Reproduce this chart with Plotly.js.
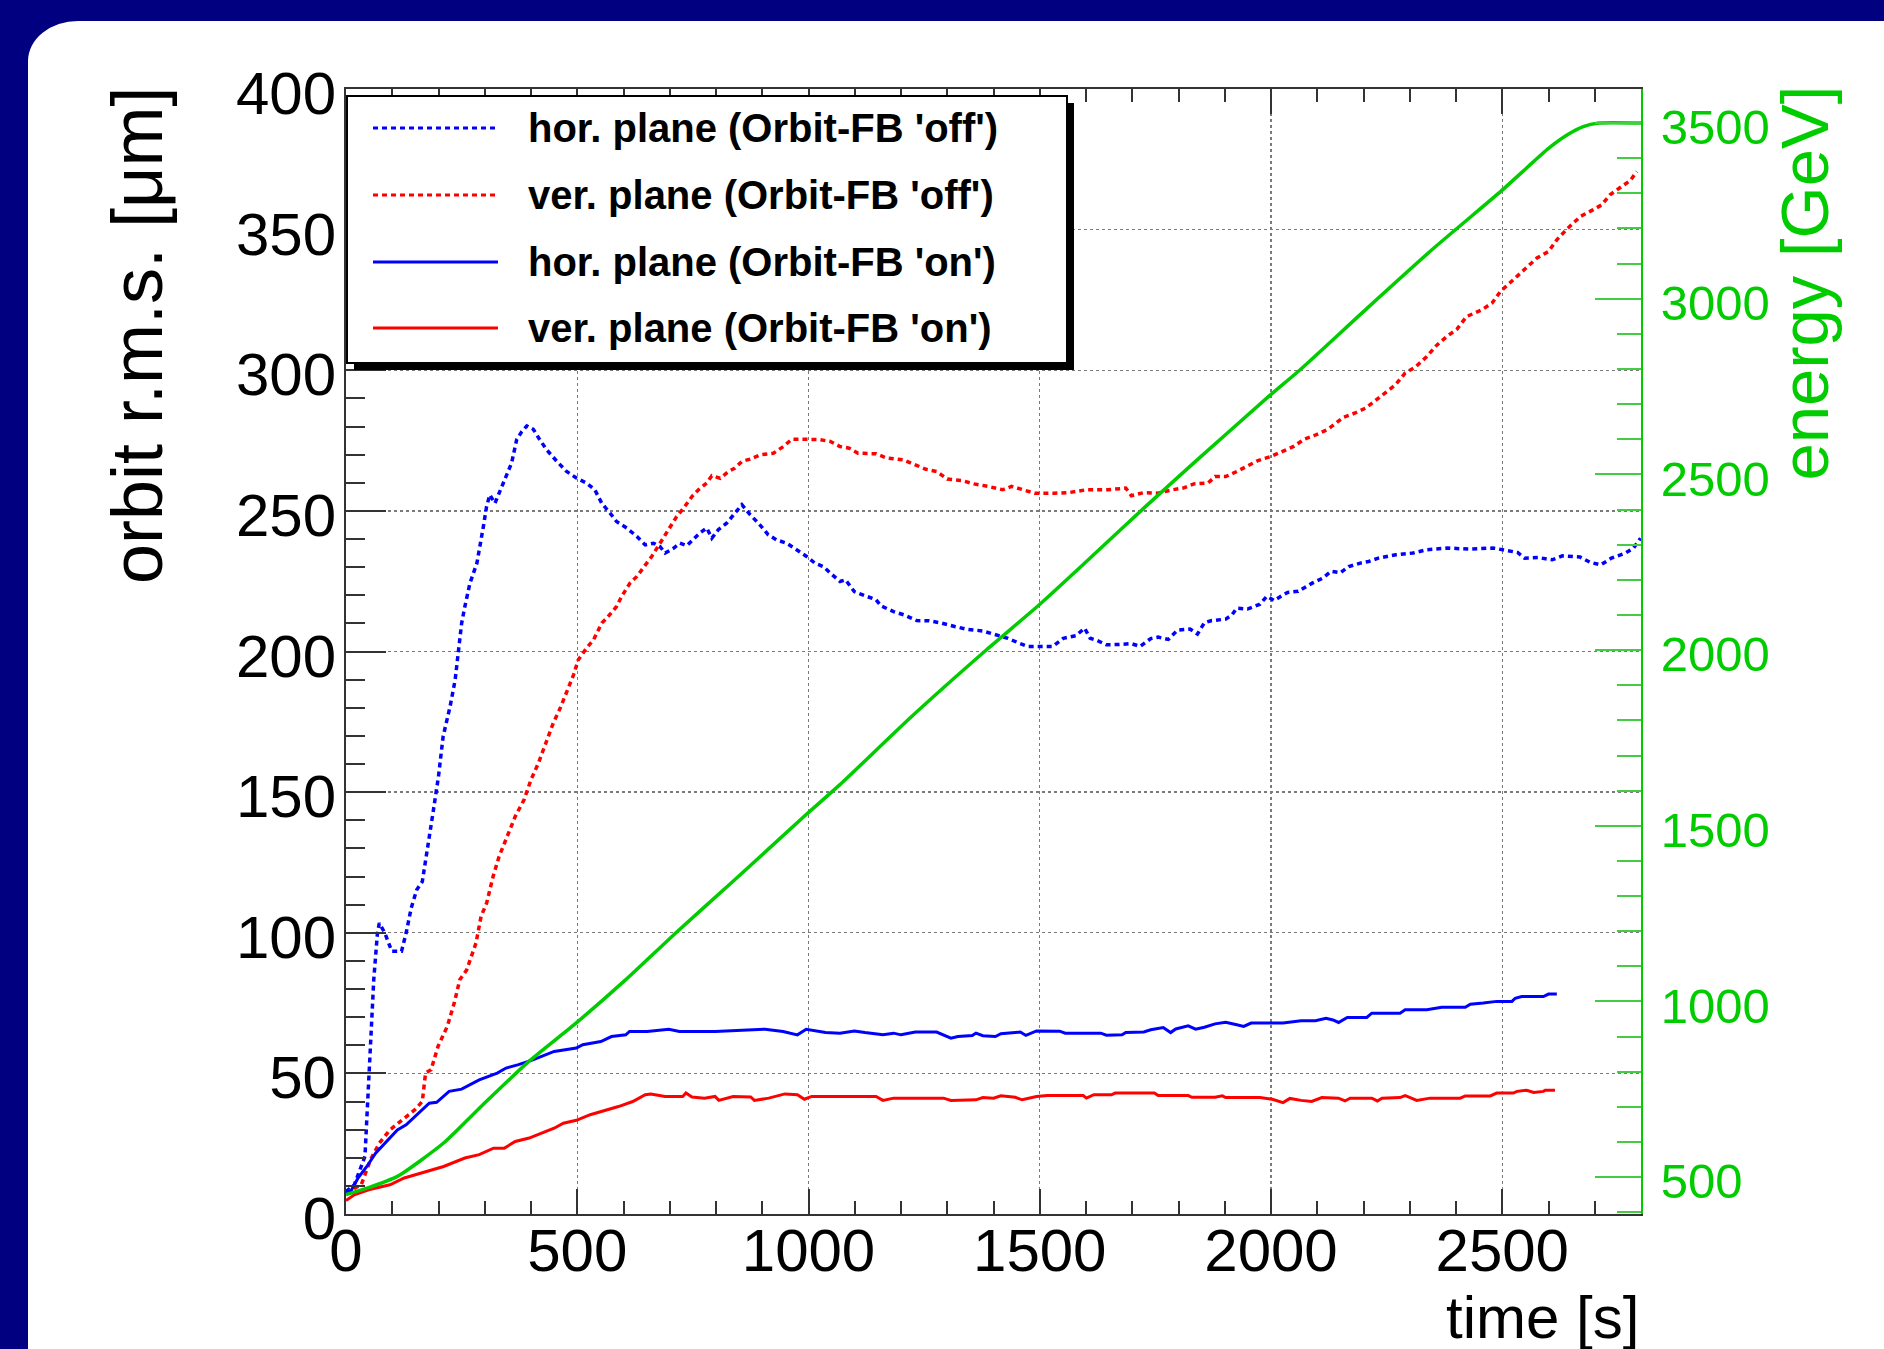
<!DOCTYPE html>
<html>
<head>
<meta charset="utf-8">
<script src="https://cdn.plot.ly/plotly-3.0.1.min.js"></script>
<style>
html,body{margin:0;padding:0;background:#000080;overflow:hidden;width:1884px;height:1349px;}
#panel{position:absolute;left:28px;top:21px;width:1870px;height:1340px;background:#ffffff;border-top-left-radius:50px 40px;}
#chart{position:absolute;left:0;top:0;width:1884px;height:1349px;}
</style>
</head>
<body>
<div id="panel"></div>
<div id="chart"></div>
<script>
// ---------------- data ----------------
const seriesNames = [
  "hor. plane (Orbit-FB 'off')",
  "ver. plane (Orbit-FB 'off')",
  "hor. plane (Orbit-FB 'on')",
  "ver. plane (Orbit-FB 'on')"
];
const xTitle = "time [s]";
const yTitle = "orbit r.m.s. [\u03bcm]";
const y2Title = "energy [GeV]";

// hor. plane, Orbit-FB off  [time s, rms um]
const horOffT = [0,18,41,49,55,60,68,72,84,99,120,130,141,153,165,176,188,200,210,225,236,243,250,257,268,283,290,297,304,311,322,333,347,358,369,380,391,405,419,434,456,477,499,520,538,553,571,585,607,629,647,665,679,690,708,722,737,751,765,780,791,805,823,841,856,874,892,913,931,953,975,996,1014,1032,1047,1068,1080,1099,1126,1146,1157,1184,1207,1234,1261,1288,1316,1343,1377,1408,1431,1455,1474,1501,1528,1551,1578,1597,1609,1624,1644,1671,1698,1717,1740,1756,1778,1798,1825,1841,1856,1872,1890,1902,1916,1926,1949,1976,1991,2007,2026,2036,2059,2089,2112,2130,2150,2168,2195,2211,2232,2270,2307,2337,2382,2427,2480,2510,2533,2548,2578,2608,2630,2668,2690,2713,2736,2766,2784,2799];
const horOffV = [8,10.4,20.5,47.7,71.4,83.3,99.9,103.4,99.9,93.4,93.4,99.9,108.8,115.3,118.2,130.7,142.5,155.6,169.8,180.4,189.9,200,210,216,224.3,231.4,237.3,244.4,251.6,255.7,252.7,256.9,262.2,267,275.3,278.2,280.2,279,275.3,271.7,267.6,264,261.6,259.9,257.5,252.7,249.2,246.2,243.9,240.9,237.9,238.5,237.3,235,236.7,238.5,237.6,239.7,242.1,243.9,240.3,243.3,245.6,249.2,252.2,248.6,245.6,241.5,239.7,238.5,236.1,233.8,231.4,230.2,227.9,224.9,225.5,221.3,219.6,218.4,216.2,214.2,213,211,210.9,210.1,208.9,207.9,207.3,205.9,204.7,203,201.8,201.8,201.8,204.7,205.6,208.3,204.7,203.9,202.4,202.5,202.8,201.8,204.6,205.1,204.3,207.6,208,206.2,210.2,211,211.3,211.5,213.1,215.4,215.1,216.8,219.6,218.1,220.1,221,221.4,224.3,226.1,228.5,228,230.2,231.5,232,233.2,234.4,235,236.2,236.8,236.4,236.8,235.8,235.2,233.2,233.4,232.6,234,233.6,231.7,230.8,233.2,235,236.8,240.3];

// ver. plane, Orbit-FB off
const verOffT = [0,33,53,72,95,122,149,165,172,184,199,219,234,246,261,281,292,304,318,331,346,366,385,400,416,434,448,463,477,492,502,520,535,553,564,585,596,614,629,643,661,679,697,715,730,748,762,780,791,809,827,841,856,874,895,924,946,964,982,1003,1025,1047,1068,1088,1107,1146,1169,1204,1227,1254,1277,1300,1331,1358,1389,1420,1439,1462,1489,1532,1563,1601,1648,1686,1698,1725,1756,1787,1810,1833,1864,1879,1902,1926,1949,1972,1999,2026,2049,2072,2094,2123,2146,2157,2182,2204,2220,2246,2269,2290,2312,2337,2359,2380,2402,2423,2456,2478,2496,2524,2546,2575,2600,2618,2640,2669,2697,2715,2733,2755,2777,2791];
const verOffV = [7.5,10.4,19.3,25.2,29.9,33.5,37.1,40,50.1,51.3,59.6,66.7,75,83.3,86.8,96.3,105.8,110.5,120,127.1,133.1,141.4,147.3,154.4,160.3,168.6,174.5,179.8,185.2,191.7,197,201.2,204.1,210.1,211.9,216,219.6,224.3,226.7,229.6,233.8,238.5,243.3,248,251,255.1,257.5,259.9,262.5,261.6,264,265.2,267.6,268.4,269.9,270.5,272.9,275.5,275.5,275.5,275.3,274.7,272.9,272.3,270.5,270.3,268.8,268.2,266.7,264.8,264,261.3,260.8,259.6,258.7,257.5,258.7,257.5,256.3,256.3,256.5,257.5,257.5,258.1,255.4,256.5,256.3,257.5,258.1,259.6,259.9,262.2,262.2,264,265.8,267.9,269.3,271.1,272.9,275.5,276.8,279,282,283.3,284.8,286.5,288.5,291.7,294.8,299,301.1,304.9,309,312,314.6,319.1,321.5,323.9,328,332.2,335.7,339.9,342.2,346.4,350.2,354.7,357.1,358.8,362.4,365.1,367.5,370.7];

// hor. plane, Orbit-FB on
const horOnT = [0,10,26,45,64,87,111,130,157,180,196,223,250,288,327,346,373,404,450,498,512,551,574,605,613,651,698,721,798,875,906,945,976,995,1037,1068,1099,1122,1161,1184,1200,1231,1277,1308,1323,1354,1362,1377,1404,1416,1458,1470,1493,1543,1555,1632,1644,1678,1686,1725,1740,1767,1783,1794,1821,1837,1856,1879,1902,1926,1941,1957,2026,2065,2096,2119,2134,2146,2165,2207,2218,2279,2290,2337,2369,2420,2431,2459,2488,2521,2528,2542,2589,2600,2618];
const horOnV = [8,8,12.8,16.9,21.6,25.8,29.9,31.7,35.9,39.4,39.7,43.6,44.4,47.7,50.1,51.9,53.1,54.8,57.8,59,60.2,61.3,63.1,63.7,64.9,64.9,65.7,64.9,64.9,65.3,65.7,64.9,63.7,65.7,64.5,64.3,65.1,64.5,63.7,64.3,63.7,64.7,64.7,62.5,63.1,63.5,64.3,63.4,63.1,64.1,64.7,63.5,65.1,65,64.3,64.3,63.6,63.7,64.5,64.7,65.5,66.3,64.5,65.8,66.9,65.7,66.4,67.6,68.2,67.3,66.7,67.9,67.9,68.7,68.7,69.6,69,68.1,69.9,69.9,71.4,71.4,72.6,72.6,73.5,73.5,74.6,75,75.6,75.6,76.7,77.3,77.3,78.2,78.2];

// ver. plane, Orbit-FB on
const verOnT = [0,18,49,95,126,172,211,257,288,319,342,366,396,427,450,470,498,528,559,589,620,647,659,690,728,735,748,775,798,806,837,875,883,914,949,976,991,1007,1146,1161,1184,1292,1308,1362,1377,1400,1416,1447,1462,1493,1516,1594,1601,1617,1655,1663,1748,1756,1821,1829,1879,1895,1902,1976,2003,2026,2041,2065,2088,2110,2146,2160,2171,2218,2230,2240,2279,2290,2301,2315,2344,2409,2420,2474,2488,2524,2532,2553,2568,2589,2593,2614];
const verOnV = [4.8,6.8,8.6,10.4,12.8,15.1,16.9,19.9,21.1,23.4,23.4,25.8,27,29,30.5,32.3,33.3,35.3,36.7,38.2,40,42.4,42.7,41.8,41.8,43,41.6,41.2,41.8,40.4,41.8,41.6,40.4,41.2,42.7,42.4,40.8,41.8,41.8,40.4,41.2,41.2,40.4,40.6,41.4,41.2,42,41.5,40.6,41.8,42.1,42.1,41.2,42.4,42.4,43,43,42.1,42.1,41.5,41.5,42,41.4,41.4,40.8,39.6,41.1,40.4,40,41.4,41.2,40.2,41.2,41.2,40.2,41.2,41.4,42.1,41.4,40.4,41.2,41.2,42,42,43,43,43.6,44,43.2,43.6,44,44];

// beam energy [GeV]
const energyT = [0,49,111,211,296,396,498,605,717,837,995,1068,1223,1385,1499,1609,1725,1841,1995,2063,2207,2351,2498,2560,2600,2640,2675,2709,2800];
const energyE = [450,470,502,597,706,830,939,1062,1200,1342,1532,1617,1811,2001,2129,2262,2404,2542,2722,2798,2972,3143,3307,3381,3428,3466,3490,3500,3500];

// axis ranges
const xRange = [0, 2800];
const yRange = [0, 400];
const y2Range = [395, 3597];

// ---------------- layout geometry (pixels) ----------------
const W = 1884, H = 1349;
const M = {l: 346, r: 243, t: 89, b: 135};
const PW = W - M.l - M.r, PH = H - M.t - M.b;
const px2x = X => (X - M.l) / PW;
const px2y = Y => (H - M.b - Y) / PH;

const FONT = "Liberation Sans, Arial, Helvetica, sans-serif";
const BLUE = "#0000ff", RED = "#ff0000", GREEN = "#00cc00";
const AXC = "#333333";
const DOT = "5px,4px";

const traces = [
  {x: horOffT, y: horOffV, name: seriesNames[0], mode: "lines", line: {color: BLUE, width: 3.5, dash: DOT}, showlegend: false},
  {x: verOffT, y: verOffV, name: seriesNames[1], mode: "lines", line: {color: RED, width: 3.5, dash: DOT}, showlegend: false},
  {x: horOnT, y: horOnV, name: seriesNames[2], mode: "lines", line: {color: BLUE, width: 3}, showlegend: false},
  {x: verOnT, y: verOnV, name: seriesNames[3], mode: "lines", line: {color: RED, width: 3}, showlegend: false},
  {x: energyT, y: energyE, name: "energy", mode: "lines", yaxis: "y2", line: {color: GREEN, width: 3.5, shape: "spline", smoothing: 0.6}, showlegend: false}
];

// manual ROOT-style legend (box with shadow)
const legStyles = [
  {color: BLUE, dash: DOT, width: 3},
  {color: RED, dash: DOT, width: 3},
  {color: BLUE, dash: "solid", width: 3},
  {color: RED, dash: "solid", width: 3}
];
const legRowsY = [128, 195, 262, 328];
const shapes = [
  {type: "rect", xref: "paper", yref: "paper", layer: "above",
   x0: px2x(354), x1: px2x(1074), y0: px2y(370), y1: px2y(103),
   fillcolor: "#000000", line: {width: 0}},
  {type: "rect", xref: "paper", yref: "paper", layer: "above",
   x0: px2x(347), x1: px2x(1067), y0: px2y(363), y1: px2y(96),
   fillcolor: "#ffffff", line: {color: "#000000", width: 2}}
];
const annotations = [];
seriesNames.forEach((name, i) => {
  shapes.push({type: "line", xref: "paper", yref: "paper", layer: "above",
    x0: px2x(373), x1: px2x(498), y0: px2y(legRowsY[i]), y1: px2y(legRowsY[i]),
    line: {color: legStyles[i].color, width: legStyles[i].width, dash: legStyles[i].dash}});
  annotations.push({xref: "paper", yref: "paper", x: px2x(526), y: px2y(legRowsY[i]),
    xanchor: "left", yanchor: "middle", showarrow: false, text: name,
    font: {family: FONT, size: 40, color: "#000", weight: "bold"}});
});
annotations.push(
  {xref: "paper", yref: "paper", x: px2x(137), y: px2y(84), xanchor: "center", yanchor: "top",
   textangle: -90, showarrow: false, text: yTitle, font: {family: FONT, size: 72, color: "#000"}},
  {xref: "paper", yref: "paper", x: px2x(1804), y: px2y(84), xanchor: "center", yanchor: "top",
   textangle: -90, showarrow: false, text: y2Title, font: {family: FONT, size: 67, color: GREEN}},
  {xref: "paper", yref: "paper", x: 1, y: px2y(1317), xanchor: "right", yanchor: "middle",
   showarrow: false, text: xTitle, font: {family: FONT, size: 60, color: "#000"}}
);

const layout = {
  width: W, height: H, autosize: false,
  margin: {l: M.l, r: M.r, t: M.t, b: M.b, pad: 0},
  paper_bgcolor: "rgba(0,0,0,0)", plot_bgcolor: "#ffffff",
  showlegend: false,
  font: {family: FONT, color: "#000"},
  xaxis: {
    range: xRange, tickmode: "linear", tick0: 0, dtick: 500,
    ticks: "inside", ticklen: 25, tickwidth: 2, tickcolor: AXC,
    showline: true, linecolor: AXC, linewidth: 2, mirror: "ticks",
    showgrid: true, gridcolor: "#7a7a7a", griddash: "dot", gridwidth: 1.4,
    zeroline: false, tickfont: {family: FONT, size: 60, color: "#000"},
    ticklabelstandoff: -17,
    minor: {dtick: 100, ticks: "inside", ticklen: 13, tickwidth: 2, tickcolor: AXC, showgrid: false}
  },
  yaxis: {
    range: yRange, tickmode: "linear", tick0: 0, dtick: 50,
    ticks: "inside", ticklen: 40, tickwidth: 2, tickcolor: AXC,
    showline: true, linecolor: AXC, linewidth: 2, mirror: false,
    showgrid: true, gridcolor: "#7a7a7a", griddash: "dot", gridwidth: 1.4,
    zeroline: false, tickfont: {family: FONT, size: 60, color: "#000"},
    ticklabelshift: 4, ticklabelstandoff: -4,
    minor: {dtick: 10, ticks: "inside", ticklen: 19, tickwidth: 2, tickcolor: AXC, showgrid: false}
  },
  yaxis2: {
    overlaying: "y", side: "right", range: y2Range,
    tickmode: "linear", tick0: 500, dtick: 500,
    ticks: "inside", ticklen: 46, tickwidth: 2, tickcolor: "#44cc44",
    showline: true, linecolor: GREEN, linewidth: 2,
    showgrid: false, zeroline: false,
    tickfont: {family: FONT, size: 49, color: GREEN},
    ticklabelshift: 4, ticklabelstandoff: 8,
    minor: {dtick: 100, ticks: "inside", ticklen: 24, tickwidth: 2, tickcolor: "#44cc44", showgrid: false}
  },
  shapes: shapes,
  annotations: annotations
};

Plotly.newPlot("chart", traces, layout, {displayModeBar: false, staticPlot: true});
</script>
</body>
</html>
